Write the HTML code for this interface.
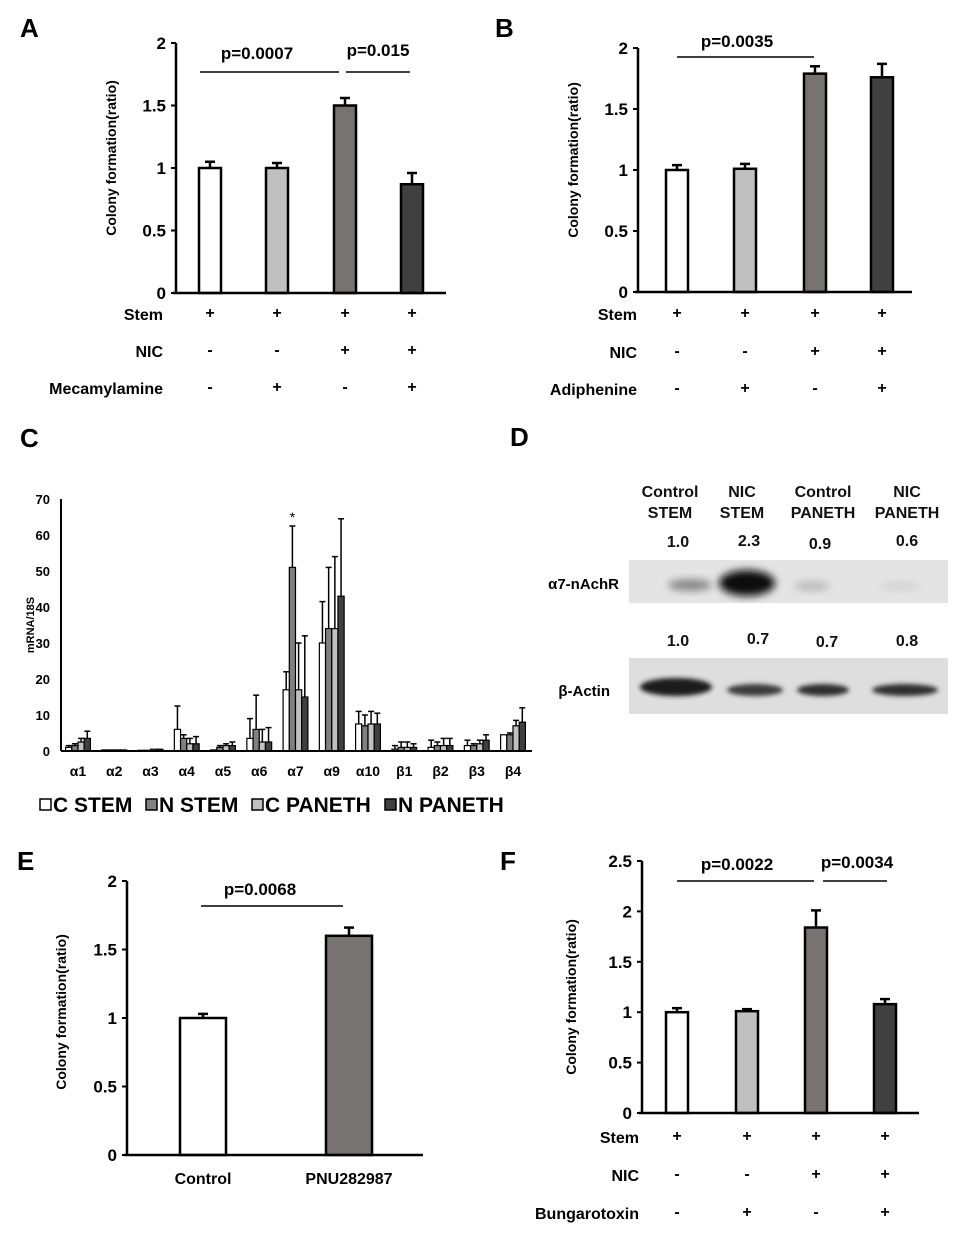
<!DOCTYPE html>
<html><head><meta charset="utf-8"><style>
body{margin:0;background:#fff}
svg{display:block;font-family:"Liberation Sans",Arial,sans-serif;font-weight:bold}
</style></head><body>
<svg id="fig" width="960" height="1234" viewBox="0 0 960 1234">
<defs>
<filter id="blur3" x="-50%" y="-50%" width="200%" height="200%"><feGaussianBlur stdDeviation="4"/></filter>
<filter id="blur2" x="-50%" y="-50%" width="200%" height="200%"><feGaussianBlur stdDeviation="2.5"/></filter>
</defs>
<g id="pD">
<rect x="629" y="560" width="319" height="43" fill="#e4e4e4"/>
<ellipse cx="690" cy="585" rx="22" ry="6" fill="#888" filter="url(#blur3)"/>
<ellipse cx="747" cy="583" rx="28" ry="13" fill="#111" filter="url(#blur3)"/>
<ellipse cx="812" cy="586" rx="18" ry="5" fill="#bbb" filter="url(#blur3)"/>
<ellipse cx="900" cy="586" rx="20" ry="4" fill="#d2d2d2" filter="url(#blur3)"/>
<rect x="629" y="658" width="319" height="56" fill="#dedede"/>
<ellipse cx="676" cy="687" rx="36" ry="9" fill="#1a1a1a" filter="url(#blur2)"/>
<ellipse cx="755" cy="690" rx="28" ry="6" fill="#3a3a3a" filter="url(#blur2)"/>
<ellipse cx="823" cy="690" rx="26" ry="6" fill="#2e2e2e" filter="url(#blur2)"/>
<ellipse cx="905" cy="690" rx="33" ry="6" fill="#2e2e2e" filter="url(#blur2)"/>
<text x="510" y="446" font-size="26">D</text>
<g font-size="16" text-anchor="middle" fill="#111">
<text x="670" y="497">Control</text><text x="670" y="518">STEM</text>
<text x="742" y="497">NIC</text><text x="742" y="518">STEM</text>
<text x="823" y="497">Control</text><text x="823" y="518">PANETH</text>
<text x="907" y="497">NIC</text><text x="907" y="518">PANETH</text>
<text x="678" y="547">1.0</text><text x="749" y="546">2.3</text><text x="820" y="549">0.9</text><text x="907" y="546">0.6</text>
<text x="678" y="646">1.0</text><text x="758" y="644">0.7</text><text x="827" y="647">0.7</text><text x="907" y="646">0.8</text>
</g>
<text x="619" y="589" font-size="15" text-anchor="end">α7-nAchR</text>
<text x="610" y="696" font-size="15" text-anchor="end">β-Actin</text>
</g>
</svg>
<script>
// Panel A data
const aValues=[1.0,1.0,1.5,0.87];
const aErrors=[0.05,0.04,0.06,0.09];
// Panel B data
const bValues=[1.0,1.01,1.79,1.76];
const bErrors=[0.04,0.04,0.06,0.11];
// Panel E data
const eCategories=["Control","PNU282987"];
const eValues=[1.0,1.6];
const eErrors=[0.03,0.06];
// Panel F data
const fValues=[1.0,1.01,1.84,1.08];
const fErrors=[0.04,0.02,0.17,0.05];
// Panel C data
const cCategories=["α1","α2","α3","α4","α5","α6","α7","α9","α10","β1","β2","β3","β4"];
const cStemC=[1,0.3,0.2,6,0.3,3.5,17,30,7.5,0.5,1,1.5,4.5];
const cStemN=[1.5,0.3,0.2,3.5,1,6,51,34,7,1,1.5,1.5,4.5];
const cPanC=[2.5,0.3,0.5,2,1.5,2.5,17,34,7.5,1,1.5,2,7];
const cPanN=[3.5,0.3,0.5,2,1.5,2.5,15,43,7.5,1,1.5,3,8];
const cErrStemC=[0.5,0.1,0.1,6.5,0.2,5.5,5,11.5,3.5,1,2,1.5,0];
const cErrStemN=[0.5,0.1,0.1,1,0.5,9.5,11.5,17,3,1.5,1,0.5,0.5];
const cErrPanC=[1,0.1,0.1,1.5,0.5,3.5,13,20,3.5,1.5,2,1,1.5];
const cErrPanN=[2,0.1,0.1,2,1,4,17,21.5,3,1,2,1.5,4];
const cTicks=[0,10,20,30,40,50,60,70];
const barTicks2=[0,0.5,1,1.5,2];
const barTicks25=[0,0.5,1,1.5,2,2.5];
const fills=["#ffffff","#c0c0c0","#777372","#404040"];

const NS="http://www.w3.org/2000/svg";
const svg=document.getElementById('fig');
function mk(tag,attrs,parent,text){const e=document.createElementNS(NS,tag);for(const k in attrs)e.setAttribute(k,attrs[k]);if(text!==undefined)e.textContent=text;(parent||svg).appendChild(e);return e;}

function barPanel(o){
  const g=mk('g',{});
  
  
  const y=v=>o.y0-(v/o.ymax)*(o.y0-o.ytop);
  const x=i=>o.xc[i];
  const lab=mk('text',{x:o.lx,y:o.ly,'font-size':26},g,o.letter);
  
  
  const yt=mk('text',{transform:`translate(${o.titleX},${o.titleY}) rotate(-90)`,'text-anchor':'middle','font-size':14},g,'Colony formation(ratio)');
  
  
  o.ticks.forEach(t=>{
    mk('line',{x1:o.ax-5,x2:o.ax,y1:y(t),y2:y(t),stroke:'#000','stroke-width':2},g);
    const tl=mk('text',{x:o.ax-10,y:y(t)+6,'text-anchor':'end','font-size':17},g,String(t));
    
    
  });
  o.values.forEach((v,i)=>{
    const top=y(v+o.errors[i]);
    mk('line',{x1:x(i),x2:x(i),y1:y(v),y2:top,stroke:'#000','stroke-width':2.5},g);
    mk('line',{x1:x(i)-5,x2:x(i)+5,y1:top,y2:top,stroke:'#000','stroke-width':2.5},g);
    const r=mk('rect',{x:x(i)-o.bw/2,y:y(v),width:o.bw,height:o.y0-y(v),fill:o.fills[i],stroke:'#000','stroke-width':2.5},g);
    
    
  });
  mk('line',{x1:o.ax,x2:o.ax,y1:o.ytop,y2:o.y0,stroke:'#000','stroke-width':2.5},g);
  mk('line',{x1:o.ax-3,x2:o.axEnd,y1:o.y0,y2:o.y0,stroke:'#000','stroke-width':2.5},g);
  o.brackets.forEach(b=>{
    mk('line',{x1:b[0],x2:b[1],y1:b[2],y2:b[2],stroke:'#000','stroke-width':1.5},g);
    const p=mk('text',{x:b[3],y:b[4],'text-anchor':'middle','font-size':17},g,b[5]);
    
    
  });
  (o.rows||[]).forEach(r=>{
    const rl=mk('text',{x:o.rowRight,y:r.y,'text-anchor':'end','font-size':16},g,r.label);
    
    
    r.signs.forEach((s,i)=>{mk('text',{x:x(i),y:r.y-2,'text-anchor':'middle','font-size':16},g,s);});
  });
  (o.cats||[]).forEach((c,i)=>{
    const cl=mk('text',{x:x(i),y:o.catY,'text-anchor':'middle','font-size':16},g,c);
    
    
  });
}
barPanel({name:'panel-a-chart',letter:'A',lx:20,ly:37,ax:176,axEnd:446,y0:293,ytop:43,ymax:2,ticks:barTicks2,titleX:116,titleY:158,
  xc:[210,277,345,412],bw:22,values:aValues,errors:aErrors,fills:fills,
  brackets:[[200,339,72,257,59,'p=0.0007'],[346,410,72,378,56,'p=0.015']],rowRight:163,
  rows:[{label:'Stem',y:320,signs:['+','+','+','+']},{label:'NIC',y:357,signs:['-','-','+','+']},{label:'Mecamylamine',y:394,signs:['-','+','-','+']}]});
barPanel({name:'panel-b-chart',letter:'B',lx:495,ly:37,ax:638,axEnd:912,y0:292,ytop:48,ymax:2,ticks:barTicks2,titleX:578,titleY:160,
  xc:[677,745,815,882],bw:22,values:bValues,errors:bErrors,fills:fills,
  brackets:[[677,814,57,737,47,'p=0.0035']],rowRight:637,
  rows:[{label:'Stem',y:320,signs:['+','+','+','+']},{label:'NIC',y:358,signs:['-','-','+','+']},{label:'Adiphenine',y:395,signs:['-','+','-','+']}]});
barPanel({name:'panel-e-chart',letter:'E',lx:17,ly:870,ax:127,axEnd:423,y0:1155,ytop:881,ymax:2,ticks:barTicks2,titleX:66,titleY:1012,
  xc:[203,349],bw:46,values:eValues,errors:eErrors,fills:["#ffffff","#777372"],
  brackets:[[201,343,906,260,895,'p=0.0068']],cats:eCategories,catY:1184});
barPanel({name:'panel-f-chart',letter:'F',lx:500,ly:870,ax:642,axEnd:919,y0:1113,ytop:861,ymax:2.5,ticks:barTicks25,titleX:576,titleY:997,
  xc:[677,747,816,885],bw:22,values:fValues,errors:fErrors,fills:fills,
  brackets:[[677,814,881,737,870,'p=0.0022'],[823,887,881,857,868,'p=0.0034']],rowRight:639,
  rows:[{label:'Stem',y:1143,signs:['+','+','+','+']},{label:'NIC',y:1181,signs:['-','-','+','+']},{label:'Bungarotoxin',y:1219,signs:['-','+','-','+']}]});

// Panel C
(function(){
  const g=mk('g',{});
  
  
  const ax=61,y0=751,ytop=499,ymax=70,axEnd=532;
  const y=v=>y0-(v/ymax)*(y0-ytop);
  const xc=i=>78+i*36.25;
  const lab=mk('text',{x:20,y:447,'font-size':26},g,'C');
  
  
  const yt=mk('text',{transform:`translate(34,625) rotate(-90)`,'text-anchor':'middle','font-size':11},g,'mRNA/18S');
  
  
  cTicks.forEach(t=>{
    const tl=mk('text',{x:50,y:y(t)+5,'text-anchor':'end','font-size':13},g,String(t));
    
    
  });
  const series=[cStemC,cStemN,cPanC,cPanN];
  const errs=[cErrStemC,cErrStemN,cErrPanC,cErrPanN];
  const cfill=["#ffffff","#808080","#c0c0c0","#404040"];
  const bw=6.2;
  cCategories.forEach((c,i)=>{
    series.forEach((s,k)=>{
      const cx=xc(i)-1.5*bw+k*bw;
      const v=s[i],top=y(v+errs[k][i]);
      if(errs[k][i]>0.2){
        mk('line',{x1:cx,x2:cx,y1:y(v),y2:top,stroke:'#000','stroke-width':1.5},g);
        mk('line',{x1:cx-3,x2:cx+3,y1:top,y2:top,stroke:'#000','stroke-width':1.5},g);
      }
      const r=mk('rect',{x:cx-bw/2,y:y(v),width:bw,height:y0-y(v),fill:cfill[k],stroke:'#000','stroke-width':1.2},g);
      
      
    });
    const cl=mk('text',{x:xc(i),y:776,'text-anchor':'middle','font-size':14},g,c);
    
    
  });
  mk('text',{x:xc(6)-3,y:y(62.5)-4,'text-anchor':'middle','font-size':14,'font-weight':'normal'},g,'*');
  mk('line',{x1:ax,x2:ax,y1:ytop,y2:y0,stroke:'#000','stroke-width':2},g);
  mk('line',{x1:ax,x2:axEnd,y1:y0,y2:y0,stroke:'#000','stroke-width':2},g);
  const names=["C STEM","N STEM","C PANETH","N PANETH"];
  const lx=[40,146,252,385];
  names.forEach((n,k)=>{
    const le=mk('g',{},g);
    
    
    mk('rect',{x:lx[k],y:799,width:11,height:11,fill:cfill[k],stroke:'#000','stroke-width':1.5},le);
    mk('text',{x:lx[k]+13,y:812,'font-size':21},le,n);
  });
})();
</script>
</body></html>
